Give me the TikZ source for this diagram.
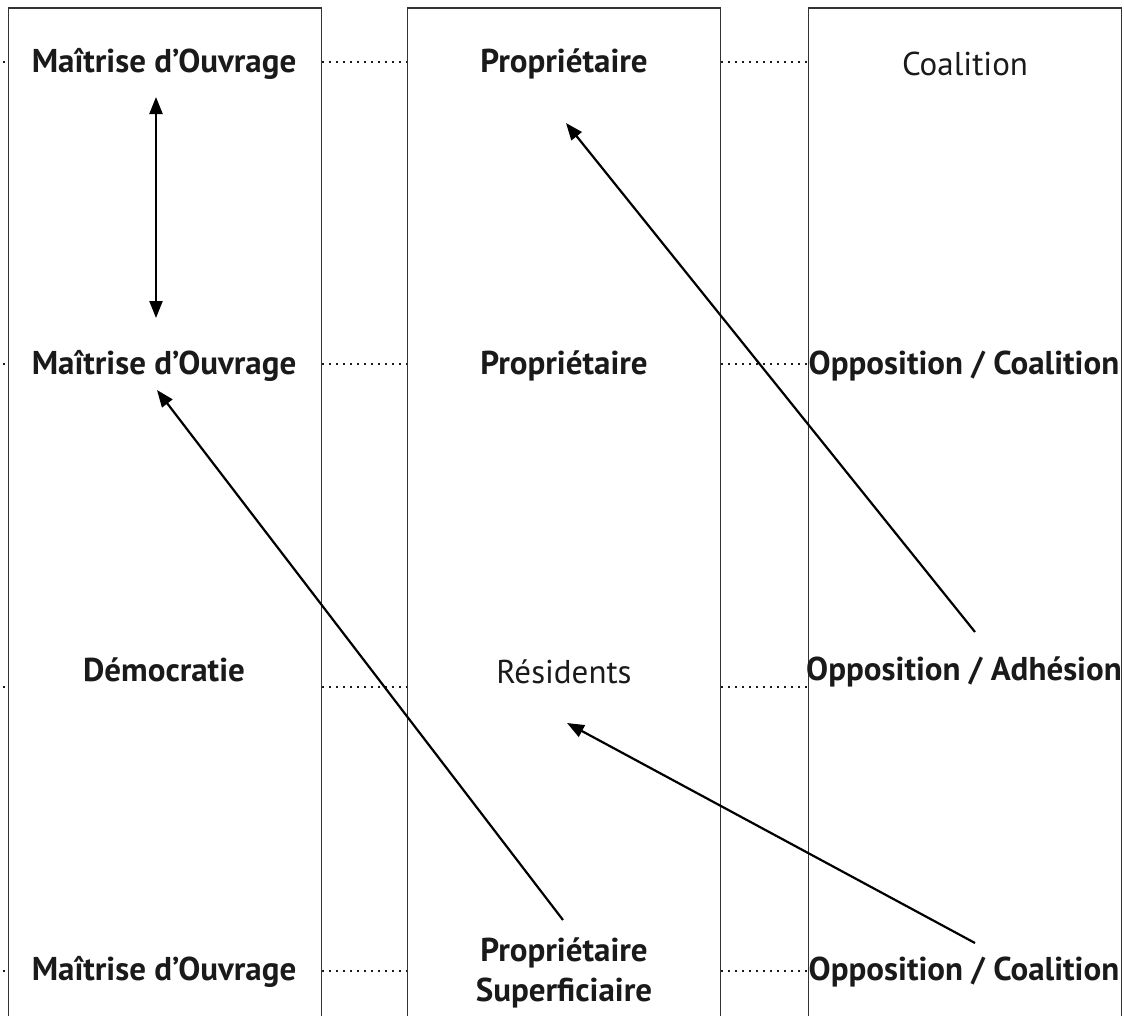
\documentclass[tikz,border=0pt]{standalone}
\usepackage{fontspec}
\setmainfont{PT Sans}
\usetikzlibrary{arrows.meta}
\definecolor{boxgray}{HTML}{333333}
\definecolor{txt}{HTML}{1A1A1A}
\begin{document}
\begin{tikzpicture}[x=1pt,y=-1pt,
  col/.style={draw=boxgray,line width=1.5pt,minimum width=313pt,minimum height=1100pt,anchor=north,inner sep=0pt},
  lbl/.style={text=txt,font=\fontsize{33}{40}\selectfont,align=center,inner sep=0pt},
  blbl/.style={lbl,font=\fontsize{33}{40}\selectfont\bfseries},
  dotline/.style={line width=1.6pt,dash pattern=on 1.6pt off 5.4pt,draw=txt},
  arr/.style={line width=2.2pt,-{Triangle[length=17pt,width=13pt]}},
  darr/.style={line width=2.2pt,{Triangle[length=17pt,width=13pt]}-{Triangle[length=17pt,width=13pt]}}]
\useasboundingbox (0,0) rectangle (1124,1015);
% columns
\node[col] (c1) at (165,7) {};
\node[col] (c2) at (564,7) {};
\node[col] (c3) at (965,7) {};
% row levels
\coordinate (r1) at (0,62);
\coordinate (r2) at (0,364);
\coordinate (r3) at (0,687);
\coordinate (r4) at (0,971);
\coordinate (lft) at (-4,0);
% labels
\node[blbl] (m1) at (164,64) {Maîtrise d’Ouvrage};
\node[blbl] (p1) at (564,64) {Propriétaire};
\node[lbl] (k1) at (965,64) {Coalition};
\node[blbl] (m2) at (164,366) {Maîtrise d’Ouvrage};
\node[blbl] (p2) at (564,366) {Propriétaire};
\node[blbl] (k2) at (964,366) {Opposition / Coalition};
\node[blbl] (d3) at (164,670) {Démocratie};
\node[lbl] (s3) at (564,672) {Résidents};
\node[blbl] (k3) at (964,672) {Opposition / Adhésion};
\node[blbl] (m4) at (164,972) {Maîtrise d’Ouvrage};
\node[blbl] (p4) at (564,973) {Propriétaire\\Superficiaire};
\node[blbl] (k4) at (964,972) {Opposition / Coalition};
% dotted links
\foreach \r in {r1,r2,r3,r4}{
  \draw[dotline] (lft |- \r) -- (c1.west |- \r);
  \draw[dotline] (c1.east |- \r) -- (c2.west |- \r);
  \draw[dotline] (c2.east |- \r) -- (c3.west |- \r);
}
% arrow endpoints
\coordinate (da) at (156,97);
\coordinate (db) at (156,318);
\coordinate (a2s) at (975,632);
\coordinate (a2e) at (566,123);
\coordinate (a3s) at (563,920);
\coordinate (a3e) at (157,390);
\coordinate (a4s) at (975,943);
\coordinate (a4e) at (567,723);
\draw[darr] (da) -- (db);
\draw[arr] (a2s) -- (a2e);
\draw[arr] (a3s) -- (a3e);
\draw[arr] (a4s) -- (a4e);
\end{tikzpicture}
\end{document}
